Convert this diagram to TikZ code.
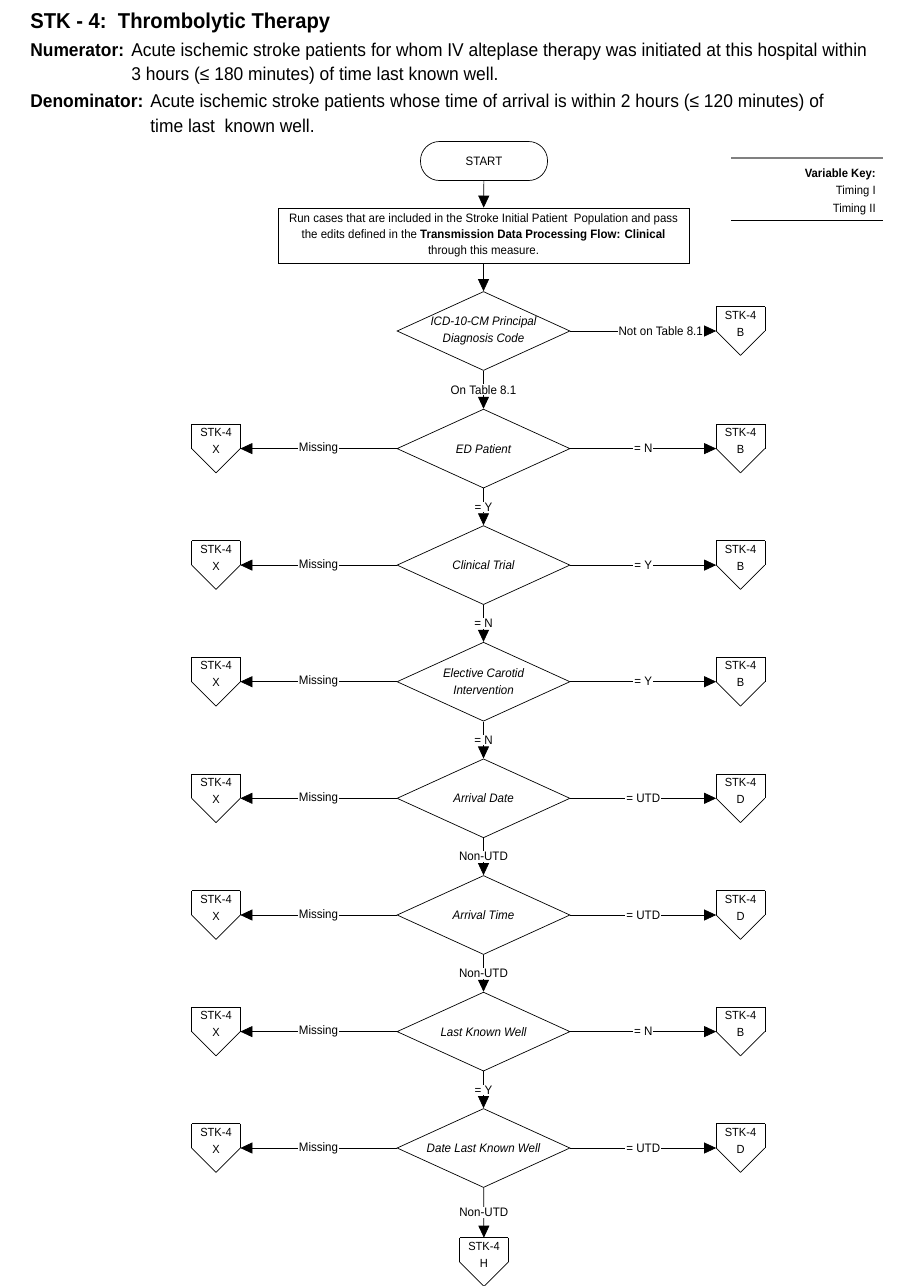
\documentclass[tikz,border=0pt]{standalone}
\usepackage{fontspec}
\setmainfont{Liberation Sans}[FakeStretch=0.94]
\usetikzlibrary{arrows.meta,shapes.geometric,positioning}

\tikzset{
  flow/.style={draw, -{Triangle[length=12pt,width=11pt]}},
  startbox/.style={draw, rectangle, rounded corners=19pt, minimum width=127pt, minimum height=39pt, font=\fontsize{12.2}{14}\selectfont},
  procbox/.style={draw, rectangle, minimum width=411pt, minimum height=55pt, align=center, font=\fontsize{12.2}{16}\selectfont},
  decision/.style={diamond, draw, aspect=2.2, minimum width=173pt, minimum height=79pt, inner sep=0pt, align=center, font=\fontsize{12.3}{16.5}\selectfont\itshape},
  offtext/.style={align=center, inner sep=0pt, yshift=7.5pt, font=\fontsize{11.8}{17}\selectfont},
  offpage/.style={rectangle, minimum width=48pt, minimum height=48pt, inner sep=0pt,
    label={[offtext]center:{STK-4\\#1}},
    append after command={
      (\tikzlastnode.north west) edge (\tikzlastnode.north east)
      (\tikzlastnode.north east) edge (\tikzlastnode.east)
      (\tikzlastnode.east) edge (\tikzlastnode.south)
      (\tikzlastnode.south) edge (\tikzlastnode.west)
      (\tikzlastnode.west) edge (\tikzlastnode.north west)}},
  lbl/.style={fill=white, inner sep=1pt, font=\fontsize{12.3}{13}\selectfont},
  hdr/.style={anchor=base west, inner sep=0pt, font=\fontsize{18.5}{20}\selectfont},
  keytext/.style={anchor=base east, inner sep=0pt, font=\fontsize{12}{13}\selectfont},
}

\begin{document}
\begin{tikzpicture}[x=1pt, y=-1pt, line width=0.7pt]
    \useasboundingbox (0,0) rectangle (900,1286);

    % heading
    \node[hdr, font=\fontsize{21.5}{24}\selectfont\bfseries] (title) at (30,28) {STK - 4:\ \ Thrombolytic Therapy};
    \node[hdr, font=\fontsize{18.5}{20}\selectfont\bfseries] (numlbl) at (30,56) {Numerator:};
    \node[hdr] (numtxt) at (131,56) {Acute ischemic stroke patients for whom IV alteplase therapy was initiated at this hospital within};
    \node[hdr] (numtxt2) at (131,80) {3 hours (≤ 180 minutes) of time last known well.};
    \node[hdr, font=\fontsize{18.5}{20}\selectfont\bfseries] (denlbl) at (30,107) {Denominator:};
    \node[hdr] (dentxt) at (150,107) {Acute ischemic stroke patients whose time of arrival is within 2 hours (≤ 120 minutes) of};
    \node[hdr] (dentxt2) at (150,132) {time last\ \ known well.};

    % variable key
    \draw[gray, line width=2pt] (731,158) -- (883,158);
    \node[keytext, font=\fontsize{12}{13}\selectfont\bfseries] (keyhead) at (876,177) {Variable Key:};
    \node[keytext] (key1) at (876,194) {Timing I};
    \node[keytext] (key2) at (876,212) {Timing II};
    \draw (731,220) -- (883,220);

    % main column
    \node[startbox] (start) at (484,161) {START};
    \node[procbox] (run) at (483.5,235.5) {Run cases that are included in the Stroke Initial Patient\ \ Population and pass\\the edits defined in the \textbf{Transmission Data Processing Flow: Clinical}\\through this measure.};

    \node[decision] (icd) at (483.5,331) {ICD-10-CM Principal\\Diagnosis Code};
    \node[decision] (ed) at (483.5,448.6) {ED Patient};
    \node[decision] (trial) at (483.5,565.1) {Clinical Trial};
    \node[decision] (carotid) at (483.5,681.7) {Elective Carotid\\Intervention};
    \node[decision] (arrdate) at (483.5,798.3) {Arrival Date};
    \node[decision] (arrtime) at (483.5,915) {Arrival Time};
    \node[decision] (lkw) at (483.5,1031.6) {Last Known Well};
    \node[decision] (datelkw) at (483.5,1148) {Date Last Known Well};

    % off-page connectors
    \node[offpage=B] (icdB) at (740.5,331) {};
    \node[offpage=B] (edB) at (740.5,448.6) {};
    \node[offpage=X] (edX) at (216,448.6) {};
    \node[offpage=B] (trialB) at (740.5,565.1) {};
    \node[offpage=X] (trialX) at (216,565.1) {};
    \node[offpage=B] (carotidB) at (740.5,681.7) {};
    \node[offpage=X] (carotidX) at (216,681.7) {};
    \node[offpage=D] (arrdateD) at (740.5,798.3) {};
    \node[offpage=X] (arrdateX) at (216,798.3) {};
    \node[offpage=D] (arrtimeD) at (740.5,915) {};
    \node[offpage=X] (arrtimeX) at (216,915) {};
    \node[offpage=B] (lkwB) at (740.5,1031.6) {};
    \node[offpage=X] (lkwX) at (216,1031.6) {};
    \node[offpage=D] (datelkwD) at (740.5,1148) {};
    \node[offpage=X] (datelkwX) at (216,1148) {};
    \node[offpage=H] (stkH) at (484,1262) {};

    % flow down
    \draw[flow] (start) -- (run);
    \draw[flow] (run) -- (icd);
    \draw[flow] (icd) -- node[lbl]{On Table 8.1} (ed);
    \draw[flow] (ed) -- node[lbl]{= Y} (trial);
    \draw[flow] (trial) -- node[lbl]{= N} (carotid);
    \draw[flow] (carotid) -- node[lbl]{= N} (arrdate);
    \draw[flow] (arrdate) -- node[lbl]{Non-UTD} (arrtime);
    \draw[flow] (arrtime) -- node[lbl]{Non-UTD} (lkw);
    \draw[flow] (lkw) -- node[lbl]{= Y} (datelkw);
    \draw[flow] (datelkw) -- node[lbl]{Non-UTD} (stkH);

    % right exits
    \draw[flow] (icd) -- node[lbl, pos=0.62]{Not on Table 8.1} (icdB);
    \draw[flow] (ed) -- node[lbl]{= N} (edB);
    \draw[flow] (trial) -- node[lbl]{= Y} (trialB);
    \draw[flow] (carotid) -- node[lbl]{= Y} (carotidB);
    \draw[flow] (arrdate) -- node[lbl]{= UTD} (arrdateD);
    \draw[flow] (arrtime) -- node[lbl]{= UTD} (arrtimeD);
    \draw[flow] (lkw) -- node[lbl]{= N} (lkwB);
    \draw[flow] (datelkw) -- node[lbl]{= UTD} (datelkwD);

    % left exits
    \draw[flow] (ed) -- node[lbl]{Missing} (edX);
    \draw[flow] (trial) -- node[lbl]{Missing} (trialX);
    \draw[flow] (carotid) -- node[lbl]{Missing} (carotidX);
    \draw[flow] (arrdate) -- node[lbl]{Missing} (arrdateX);
    \draw[flow] (arrtime) -- node[lbl]{Missing} (arrtimeX);
    \draw[flow] (lkw) -- node[lbl]{Missing} (lkwX);
    \draw[flow] (datelkw) -- node[lbl]{Missing} (datelkwX);
\end{tikzpicture}
\end{document}
